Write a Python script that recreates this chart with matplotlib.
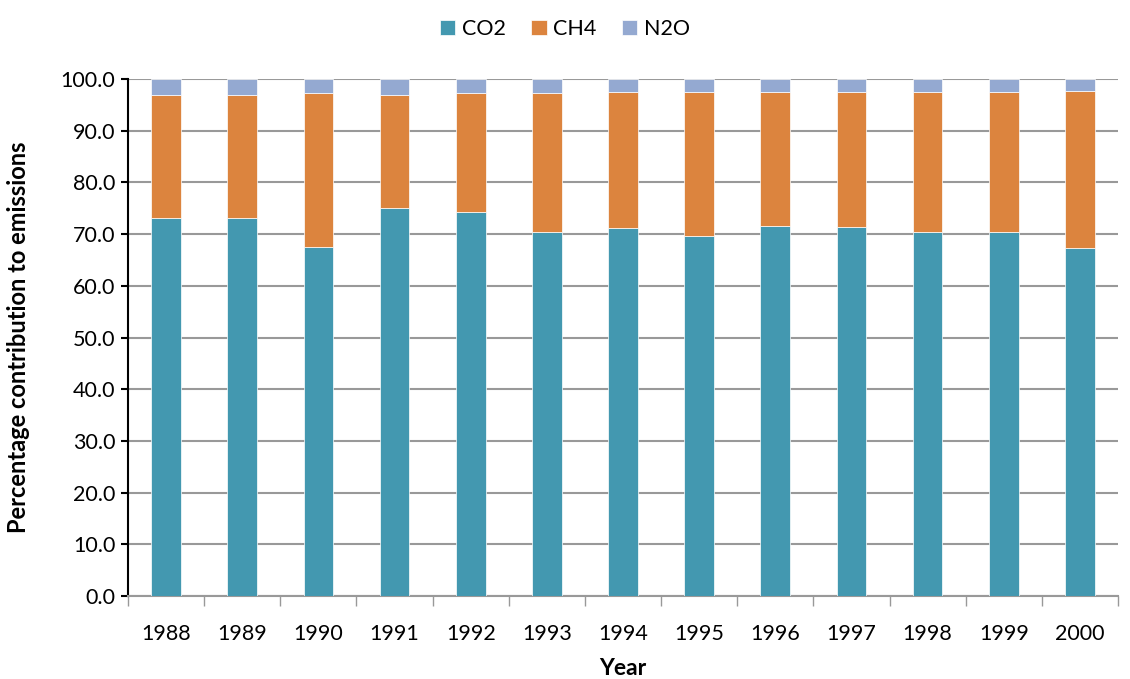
import matplotlib
matplotlib.use("Agg")
import matplotlib.pyplot as plt
from matplotlib.ticker import FixedLocator, FormatStrFormatter
import numpy as np

years = ["1988", "1989", "1990", "1991", "1992", "1993", "1994",
         "1995", "1996", "1997", "1998", "1999", "2000"]
co2 = [73.2, 73.2, 67.6, 75.0, 74.2, 70.4, 71.2, 69.6, 71.6, 71.3, 70.5, 70.5, 67.4]
ch4_top = [96.9, 97.0, 97.2, 96.9, 97.2, 97.3, 97.4, 97.4, 97.5, 97.4, 97.4, 97.5, 97.7]
ch4 = [t - c for t, c in zip(ch4_top, co2)]
n2o = [100 - t for t in ch4_top]

plt.rcParams['font.family'] = ['Lato', 'DejaVu Sans']

fig = plt.figure(figsize=(11.30, 6.79), dpi=100)
ax = fig.add_axes([128/1130, 1-596/679, (1118-128)/1130, (596-79)/679])

x = np.arange(len(years))
w = 0.39
c_co2, c_ch4, c_n2o = "#4398B0", "#DC843E", "#94A9D1"
ax.bar(x, co2, w, color=c_co2, label="CO2", zorder=3, edgecolor="white", linewidth=0.5)
ax.bar(x, ch4, w, bottom=co2, color=c_ch4, label="CH4", zorder=3, edgecolor="white", linewidth=0.5)
ax.bar(x, n2o, w, bottom=ch4_top, color=c_n2o, label="N2O", zorder=3, edgecolor="white", linewidth=0.5)

ax.set_xlim(-0.5, len(years) - 0.5)
ax.set_ylim(0, 100)
ax.set_yticks(np.arange(0, 101, 10))
ax.yaxis.set_major_formatter(FormatStrFormatter("%.1f"))
ax.yaxis.grid(True, color="#999999", linewidth=1.5, zorder=0)
ax.set_axisbelow(True)

ax.set_xticks(x)
ax.set_xticklabels(years)
ax.xaxis.set_minor_locator(FixedLocator(np.arange(-0.5, len(years), 1.0)))
ax.tick_params(axis="x", which="major", length=0, pad=20, labelsize=15.5)
ax.tick_params(axis="x", which="minor", length=7, color="#999999", width=1)
ax.tick_params(axis="y", length=5, width=1.5, labelsize=15.5, pad=4)

for s in ["top", "right"]:
    ax.spines[s].set_visible(False)
ax.spines["left"].set_color("black")
ax.spines["left"].set_linewidth(1.5)
ax.spines["bottom"].set_color("#999999")
ax.spines["bottom"].set_linewidth(1.5)

ax.set_xlabel("Year", fontsize=16.5, fontweight="bold", labelpad=10)
ax.set_ylabel("Percentage contribution to emissions", fontsize=17, fontweight="bold", labelpad=22)

leg = fig.legend(loc="upper center", bbox_to_anchor=(0.5, 1.0), ncol=3, frameon=False,
                 fontsize=15.5, handlelength=0.7, handleheight=0.7, handletextpad=0.3,
                 columnspacing=1.2)

fig.savefig("out.png", dpi=100)
